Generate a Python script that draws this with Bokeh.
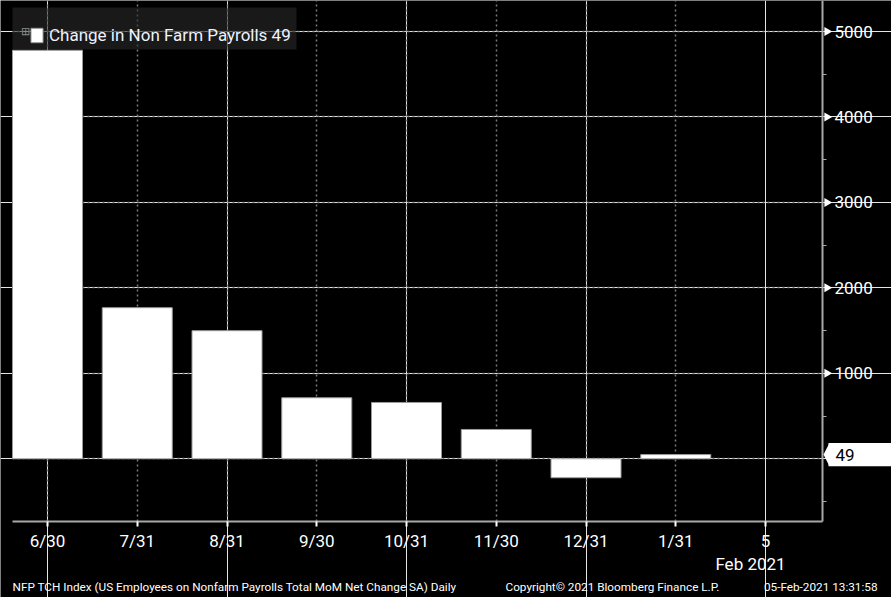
import re
import math
from bokeh.plotting import figure
from bokeh.models import (Range1d, FixedTicker, Label, Legend, LegendItem, Grid,
                          BoxAnnotation, PolyAnnotation, LinearAxis)
from bokeh.embed import file_html
from bokeh.resources import INLINE

# ---- data ----
tick_labels = ["6/30", "7/31", "8/31", "9/30", "10/31", "11/30", "12/31", "1/31", "5"]
payrolls = [4781, 1768, 1499, 714, 659, 343, -222, 49]
y_ticks = [0, 1000, 2000, 3000, 4000, 5000]
y_minor = [-500, 500, 1500, 2500, 3500, 4500]
series_name = "Change in Non Farm Payrolls"
sub_label = "Feb 2021"
footer_left = "NFP TCH Index (US Employees on Nonfarm Payrolls Total MoM Net Change SA)  Daily"
footer_mid = "Copyright\u00a9 2021 Bloomberg Finance L.P."
footer_right = "05-Feb-2021 13:31:58"

FONT = "Roboto"
last = payrolls[-1]
xs = list(range(len(payrolls)))

# plot-region extents (data) and page geometry
W, H = 891, 597
X0, X1 = -0.39, 8.635          # data x at plot-region left / right (page x 12 / 822)
Y0, Y1 = -734, 5363            # data y at plot-region bottom / top (page y 521 / 0)
DX = (X1 - X0) / 810
DY = (Y1 - Y0) / 521
XR = (X0 - 12 * DX, X0 + (W - 12) * DX)
YR = (Y0 - (H - 521) * DY, Y1)


def x_at(px):
    return X0 + (px - 12) * DX


p = figure(width=W, height=H, output_backend="svg", toolbar_location=None,
           x_range=Range1d(*XR), y_range=Range1d(*YR),
           x_axis_location=None, y_axis_location=None, min_border=0,
           background_fill_color="black", border_fill_color="black", outline_line_color=None)

GRID_COLOR = "#7c7c7c"
GRID_DASH = "2 3"

# grids limited to the plot region
gx = Grid(dimension=0, ticker=FixedTicker(ticks=xs), grid_line_color=GRID_COLOR,
          grid_line_dash=GRID_DASH, grid_line_width=1.5)
gy = Grid(dimension=1, ticker=FixedTicker(ticks=y_ticks), grid_line_color=GRID_COLOR,
          grid_line_dash=GRID_DASH, grid_line_width=1.5)
if "cross_bounds" in Grid.properties():
    gx.cross_bounds = (Y0, Y1)
    gy.cross_bounds = (X0, X1)
    p.add_layout(gx)
    p.add_layout(gy)
else:
    p.segment(x0=xs, x1=xs, y0=[Y0] * len(xs), y1=[Y1] * len(xs), line_color=GRID_COLOR,
              line_dash=GRID_DASH, line_width=1.5)
    p.segment(x0=[X0] * len(y_ticks), x1=[X1] * len(y_ticks), y0=y_ticks, y1=y_ticks,
              line_color=GRID_COLOR, line_dash=GRID_DASH, line_width=1.5)

bars = p.vbar(x=xs, top=payrolls, bottom=0, width=0.78, fill_color="white",
              line_color="#9a9a9a", line_width=1)

# bottom axis
xa = LinearAxis(fixed_location=Y0, bounds=(X0, X1),
                ticker=FixedTicker(ticks=list(range(len(tick_labels)))),
                major_label_overrides={i: t for i, t in enumerate(tick_labels)},
                axis_line_color="#a8a8a8", axis_line_width=2,
                major_tick_line_color="white", major_tick_line_width=2,
                major_tick_out=5, major_tick_in=0, minor_tick_line_color=None,
                major_label_text_color="white", major_label_text_font=FONT,
                major_label_text_font_size="17px", major_label_standoff=4)
p.add_layout(xa, "below")

# right axis
ya = LinearAxis(fixed_location=X1, bounds=(Y0, Y1),
                ticker=FixedTicker(ticks=y_ticks, minor_ticks=y_minor),
                major_label_overrides={0: ""},
                axis_line_color="#a8a8a8", axis_line_width=2,
                major_tick_line_color=None, major_tick_out=0, major_tick_in=0,
                minor_tick_line_color="#a8a8a8", minor_tick_out=4, minor_tick_in=0,
                major_label_text_color="white", major_label_text_font=FONT,
                major_label_text_font_size="17px", major_label_standoff=8)
p.add_layout(ya, "right")

# tick pointers on the right axis
p.scatter(x=[x_at(826.5)] * (len(y_ticks) - 1), y=y_ticks[1:], marker="triangle",
          size=9, angle=-math.pi / 2, fill_color="white", line_color=None)

# last-value callout
p.add_layout(PolyAnnotation(xs=[823, 829, 829], ys=[last, last + 135, last - 135],
                            xs_units="screen", ys_units="data",
                            fill_color="white", fill_alpha=1, line_color=None))
p.add_layout(BoxAnnotation(left=828, right=W, top=last + 135, bottom=last - 135,
                           left_units="screen", right_units="screen",
                           fill_color="white", fill_alpha=1, line_color=None))
p.add_layout(Label(x=835, y=last, x_units="screen", y_units="data", text=str(last),
                   text_color="black", text_font=FONT, text_font_size="17px",
                   text_baseline="middle"))

# legend (semi-transparent panel)
p.add_layout(BoxAnnotation(left=12, right=296, top=H - 7, bottom=H - 49,
                           left_units="screen", right_units="screen",
                           top_units="screen", bottom_units="screen",
                           fill_color="#2a2a2a", fill_alpha=0.6, line_color=None))
p.add_layout(Label(x=25, y=H - 30, x_units="screen", y_units="screen", text="\u229e",
                   text_color="#8a8a8a", text_font_size="11px", text_baseline="middle",
                   text_align="center"))
legend = Legend(items=[LegendItem(label=f"{series_name} {last}", renderers=[bars])],
                location=(29, H - 45), padding=4, margin=0, glyph_width=15, glyph_height=18,
                label_standoff=5, label_text_font=FONT, label_text_font_size="17px",
                label_text_color="#eef3ff", background_fill_alpha=0,
                border_line_color=None)
p.add_layout(legend)

# second date line and footer
p.add_layout(Label(x=750, y=H - 563, x_units="screen", y_units="screen", text=sub_label,
                   text_color="white", text_font=FONT, text_font_size="17px",
                   text_baseline="middle", text_align="center"))
for txt, x, align in ((footer_left, 12, "left"), (footer_mid, 505, "left"),
                      (footer_right, 877, "right")):
    p.add_layout(Label(x=x, y=H - 586, x_units="screen", y_units="screen", text=txt,
                       text_color="white", text_font=FONT, text_font_size="11.75px",
                       text_baseline="middle", text_align=align))

html = file_html(p, INLINE)
html = re.sub(r"<body([^>]*)>", r'<body\1 style="background:#000000;">', html, count=1)
open("out.html", "w").write(html)
